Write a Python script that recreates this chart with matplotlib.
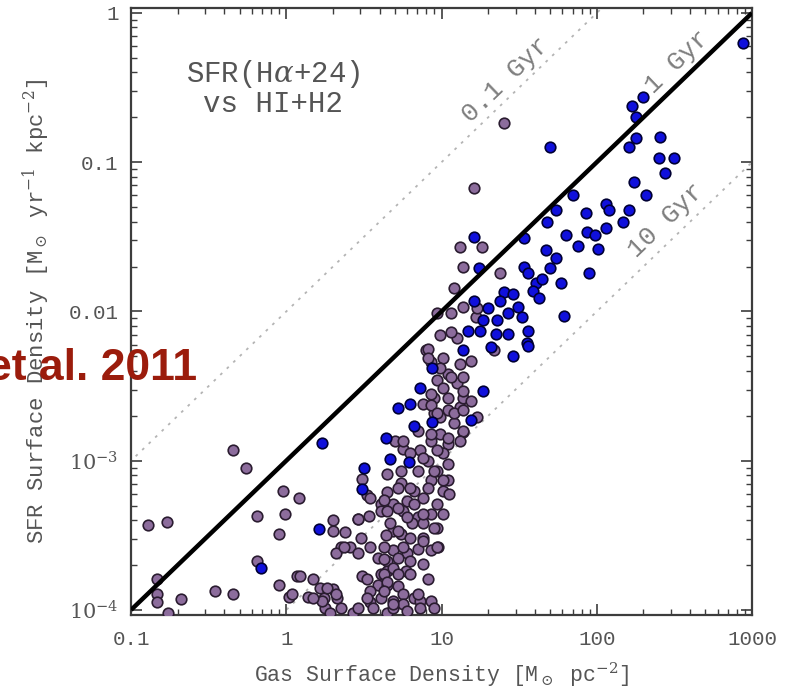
import numpy as np
import matplotlib
matplotlib.use("Agg")
import matplotlib.pyplot as plt
from matplotlib.ticker import FixedLocator, FixedFormatter, LogLocator, NullFormatter

plt.rcParams["font.family"] = ["Liberation Mono", "DejaVu Sans Mono"]
plt.rcParams["mathtext.fontset"] = "dejavuserif"

# log10 gas surface density [Msun/pc^2] and log10 SFR surface density [Msun/yr/kpc^2]
# purple points (HI-dominated regions)
log_gas_purple = [
    -0.89, -0.77, -0.83, -0.83, -0.83, -0.68, -0.76, -0.34, -0.26, -0.02,
    0.08, -0.01, -0.19, -0.05, -0.19, -0.05, 0.02, -0.46, -0.34, 0.07,
    0.17, 0.22, 0.24, 0.14, 0.30, 0.33, 0.25, 0.35, 0.43, 0.30,
    0.30, 0.38, 0.35, 0.32, 0.41, 0.46, 0.53, 0.52, 0.61, 0.65,
    0.49, 0.65, 0.69, 0.61, 0.69, 0.69, 0.48, 0.54, 0.59, 0.65,
    0.49, 0.46, 0.61, 0.52, 0.63, 0.65, 0.59, 0.26, 0.04, 0.23,
    0.32, 0.46, 0.54, 0.61, 0.65, 0.54, 0.65, 0.28, 0.52, 0.56,
    0.69,
    0.88, 0.95, 1.04, 1.12, 1.08, 0.99, 1.14, 0.93, 0.86, 0.75,
    0.70, 1.04, 1.01, 0.91, 0.85, 0.74, 0.97, 0.93, 1.04, 0.82,
    0.74, 1.01, 0.88, 0.63, 0.65, 0.78, 0.93, 1.01, 0.75, 0.85,
    0.81, 0.88, 0.67, 0.97, 0.64, 0.74, 0.80, 0.88, 0.98, 0.93,
    0.85, 0.78, 0.63, 0.63, 0.69, 0.80, 0.77, 0.88, 0.91, 0.65,
    0.72, 0.63, 0.75, 0.82, 0.69, 0.75, 0.86, 0.93, 0.95, 0.78,
    0.90, 0.93, 0.97, 1.04, 1.10, 1.14, 1.04, 0.95, 0.99, 1.08,
    1.14, 1.12, 0.93, 0.85, 0.80, 0.97, 0.88, 1.04, 0.91, 0.80,
    1.05, 0.97, 0.72, 0.88, 0.95, 0.75, 0.72, 0.80, 0.86,
    1.40, 1.21, 1.12, 1.26, 1.14, 1.38, 1.08, 1.14, 0.97, 1.06,
    0.99, 1.10, 0.91, 0.91, 1.01, 0.99, 1.12, 1.19, 1.06, 1.14,
    0.93, 1.19, 0.93, 1.14, 1.23, 1.22, 1.34, 1.23,
    1.04, 0.95, 1.01, 0.72, 0.82, 0.78, 0.72, 0.97, 0.88, 0.72,
    0.85, 0.69, 1.06, 1.01, 1.14, 0.97, 0.54, 0.37, 0.17, 0.09,
    0.46, 0.75,
]
log_sfr_purple = [
    -3.43, -3.41, -3.79, -3.89, -3.95, -3.93, -4.02, -2.93, -3.05, -3.20,
    -3.25, -3.36, -3.37, -3.49, -3.67, -3.83, -3.91, -3.87, -3.89, -3.77,
    -3.79, -3.85, -3.92, -3.91, -3.86, -3.92, -3.99, -3.99, -4.02, -3.40,
    -3.47, -3.48, -3.58, -3.62, -3.58, -3.39, -3.37, -3.23, -3.29, -3.21,
    -3.12, -3.09, -3.29, -3.34, -3.47, -3.60, -3.52, -3.58, -3.65, -3.67,
    -3.77, -3.62, -3.76, -3.79, -3.58, -3.74, -3.83, -3.85, -3.89, -3.94,
    -3.89, -3.99, -3.95, -3.92, -3.83, -3.87, -4.02, -4.02, -3.92, -3.99,
    -3.99,
    -2.62, -2.68, -2.66, -2.64, -2.75, -2.82, -2.81, -2.87, -2.93, -2.92,
    -2.87, -2.89, -2.95, -3.00, -3.07, -3.07, -3.07, -3.13, -3.13, -3.20,
    -3.15, -3.20, -3.25, -3.26, -3.34, -3.27, -3.36, -3.36, -3.34, -3.38,
    -3.42, -3.42, -3.42, -3.45, -3.50, -3.49, -3.52, -3.52, -3.58, -3.60,
    -3.59, -3.62, -3.66, -3.76, -3.72, -3.67, -3.74, -3.69, -3.79, -3.81,
    -3.84, -3.87, -3.89, -3.92, -3.94, -3.96, -3.94, -3.94, -3.99, -4.01,
    -2.26, -2.34, -2.46, -2.42, -2.48, -2.58, -2.58, -2.58, -2.71, -2.68,
    -2.80, -2.87, -2.82, -2.80, -2.95, -2.93, -2.98, -3.02, -3.18, -3.18,
    -3.22, -3.29, -3.32, -3.36, -3.45, -3.58, -3.65, -3.76, -3.99,
    -0.74, -1.17, -1.57, -1.57, -1.70, -1.74, -1.84, -1.97, -2.01, -2.01,
    -2.16, -2.18, -2.25, -2.31, -2.31, -2.38, -2.35, -2.33, -2.44, -2.44,
    -2.55, -2.60, -2.63, -2.66, -2.71, -2.04, -2.26, -1.98,
    -2.85, -3.07, -3.13, -3.18, -3.29, -3.38, -3.47, -3.58, -3.54, -3.76,
    -3.89, -3.96, -2.14, -2.51, -2.53, -2.68, -3.25, -3.58, -3.92, -3.77,
    -3.39, -2.87,
]

# blue points (H2-dominated regions)
log_gas_blue = [
    2.94, 2.30, 2.23, 2.25, 2.25, 2.21, 2.41, 2.40, 2.50, 2.44,
    2.24, 2.32, 1.85, 1.70, 2.06, 2.08, 2.21, 2.17, 2.06, 1.93,
    1.94, 1.99, 2.01, 1.88, 1.95, 1.79, 1.55, 1.74, 1.68, 1.80,
    1.53, 1.21, 1.24, 1.67, 1.74, 1.70, 1.53, 1.56, 1.61, 1.65,
    1.59, 1.63, 1.77, 1.40, 1.46, 1.38, 1.49, 1.43, 1.52, 1.56,
    1.30, 1.27, 1.36, 1.17, 1.25, 1.35, 1.43, 1.32, 1.46, 1.21,
    1.14, 0.94, 0.86, 0.80, 0.72, 1.56, 1.27, 1.19, 0.82, 0.94,
    0.64, 0.67, 0.79, 0.23, 0.50, 0.49, 0.21, -0.16,
]
log_sfr_blue = [
    -0.20, -0.56, -0.62, -0.70, -0.84, -0.90, -0.83, -0.97, -0.97, -1.07,
    -1.13, -1.22, -1.22, -0.90, -1.28, -1.32, -1.32, -1.40, -1.44, -1.34,
    -1.47, -1.49, -1.58, -1.56, -1.74, -2.03, -2.21, -1.32, -1.40, -1.49,
    -1.51, -1.50, -1.71, -1.59, -1.64, -1.71, -1.70, -1.74, -1.81, -1.78,
    -1.86, -1.91, -1.81, -1.87, -1.88, -1.93, -1.97, -2.01, -2.04, -2.13,
    -1.98, -2.06, -2.06, -2.13, -2.13, -2.15, -2.15, -2.24, -2.30, -1.93,
    -2.26, -2.38, -2.51, -2.62, -2.65, -2.23, -2.53, -2.73, -2.77, -2.74,
    -2.85, -2.99, -3.01, -2.88, -3.05, -3.19, -3.46, -3.72,
]

# constant depletion time lines [Gyr]
tdep_gyr = [0.1, 1, 10]
tdep_labels = ["0.1 Gyr", "1 Gyr", "10 Gyr"]

# black reference line (gas, sfr)
ref_gas = [0.1, 1000]
ref_sfr = [1e-4, 1]

xtick_vals = [0.1, 1, 10, 100, 1000]
xtick_labels = ["0.1", "1", "10", "100", "1000"]
ytick_vals = [1e-4, 1e-3, 0.01, 0.1, 1]
ytick_labels = [r"$10^{-4}$", r"$10^{-3}$", "0.01", "0.1", "1"]

TXT = "#555555"

fig = plt.figure(figsize=(7.87, 6.90), dpi=100)
ax = fig.add_axes([0.1665, 0.1087, 0.789, 0.8797])
ax.set_xscale("log")
ax.set_yscale("log")
ax.set_xlim(0.1, 1000)
ax.set_ylim(9.25e-5, 1.08)

# depletion time lines
gas_grid = np.array([0.01, 1e4])
for t in tdep_gyr:
    ax.plot(gas_grid, gas_grid * 1e6 / (t * 1e9), color="#b4b4b4",
            linestyle=(0, (1.5, 3.5)), linewidth=1.3, zorder=1)

for (gx, sy), lab in zip([(25.9, 0.355), (328, 0.469), (279, 0.0408)], tdep_labels):
    ax.text(gx, sy, lab, rotation=44, rotation_mode="anchor", ha="center",
            va="center", fontsize=19, color="#7e7e7e", zorder=1)

ax.scatter(10 ** np.array(log_gas_purple), 10 ** np.array(log_sfr_purple),
           s=58, facecolor="#8c6c9c", edgecolor="#2a1c30", linewidth=1.2, zorder=3)
ax.scatter(10 ** np.array(log_gas_blue), 10 ** np.array(log_sfr_blue),
           s=58, facecolor="#1010dc", edgecolor="#000034", linewidth=1.2, zorder=4)

ax.plot(ref_gas, ref_sfr, color="black", linewidth=3.2, zorder=5,
        solid_capstyle="butt")

ax.text(0.229, 0.868, "SFR(H$\\alpha$+24)\nvs HI+H2", transform=ax.transAxes,
        ha="center", va="center", multialignment="center", fontsize=21,
        color=TXT, linespacing=1.0)

# axes styling (IDL-like inward ticks on all sides)
for sp in ax.spines.values():
    sp.set_color("#3c3c3c")
    sp.set_linewidth(1.6)
ax.xaxis.set_major_locator(FixedLocator(xtick_vals))
ax.xaxis.set_major_formatter(FixedFormatter(xtick_labels))
ax.yaxis.set_major_locator(FixedLocator(ytick_vals))
ax.yaxis.set_major_formatter(FixedFormatter(ytick_labels))
ax.xaxis.set_minor_locator(LogLocator(base=10, subs=np.arange(2, 10)))
ax.yaxis.set_minor_locator(LogLocator(base=10, subs=np.arange(2, 10)))
ax.xaxis.set_minor_formatter(NullFormatter())
ax.yaxis.set_minor_formatter(NullFormatter())
ax.tick_params(which="both", direction="in", top=True, right=True,
               color="#3c3c3c", labelcolor=TXT, labelsize=15)
ax.tick_params(which="major", length=8, width=1.2)
ax.tick_params(which="minor", length=4, width=1.0)
ax.tick_params(axis="x", which="major", pad=11)
ax.tick_params(axis="y", which="major", pad=9)

ax.set_xlabel(r"Gas Surface Density [M$_\odot$ pc$^{-2}$]", fontsize=15.5,
              color=TXT)
ax.set_ylabel(r"SFR Surface Density [M$_\odot$ yr$^{-1}$ kpc$^{-2}$]",
              fontsize=16, color=TXT)
ax.xaxis.set_label_coords(0.5, -0.075)
ax.yaxis.set_label_coords(-0.127, 0.5)

fig.text(0.2503, 0.4493, "et al. 2011", ha="right", va="baseline",
         fontsize=32, fontweight="bold", color="#9b1c0c",
         family=["Liberation Sans", "DejaVu Sans"], zorder=10)

fig.savefig("out.png", dpi=100)
